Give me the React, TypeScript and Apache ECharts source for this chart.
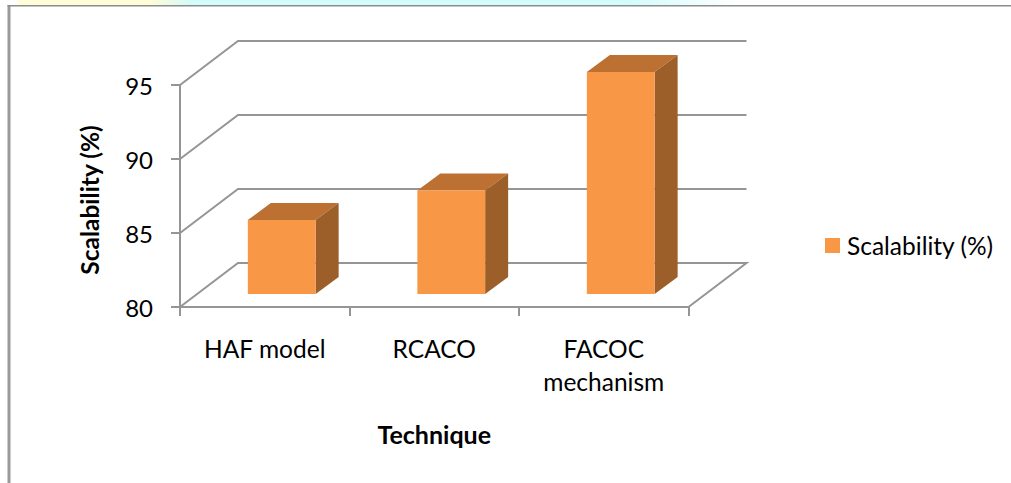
import React, { useEffect, useRef } from "react";
import * as echarts from "echarts";

const categories = ["HAF model", "RCACO", "FACOC\nmechanism"];
const seriesName = "Scalability (%)";
const scalability = [85, 87, 95];
const yTicks = [80, 85, 90, 95];

const LINE = "#959595";
const FONT = "Lato, 'Open Sans', sans-serif";
const DX = 58;
const DY = 44;

export default function App() {
  const ref = useRef<HTMLDivElement>(null);
  useEffect(() => {
    const chart = echarts.init(ref.current!, undefined, { renderer: "svg" });
    chart.setOption({
      animation: false,
      backgroundColor: "#ffffff",
      textStyle: { fontFamily: FONT },
      grid: { left: 180, top: 85, width: 508.5, height: 222 },
      legend: {
        show: true,
        data: [{ name: seriesName, icon: "rect" }],
        left: 820,
        top: 228,
        itemWidth: 15,
        itemHeight: 15,
        textStyle: { fontFamily: FONT, fontSize: 24.5, color: "#000", padding: [0, 0, 0, 2] },
      },
      xAxis: {
        type: "category",
        data: categories,
        name: "Technique",
        nameLocation: "middle",
        nameGap: 114,
        nameTextStyle: { fontFamily: FONT, fontSize: 25, fontWeight: "bold", color: "#000" },
        axisLine: { lineStyle: { color: LINE, width: 2 } },
        axisTick: { show: true, length: 9, alignWithLabel: false, lineStyle: { color: LINE, width: 2 } },
        axisLabel: { fontFamily: FONT, fontSize: 24.5, color: "#000", margin: 25, lineHeight: 33, interval: 0 },
        splitLine: { show: false },
      },
      yAxis: {
        type: "value",
        min: 80,
        max: 95,
        interval: 5,
        name: seriesName,
        nameLocation: "middle",
        nameGap: 78,
        nameRotate: 90,
        nameTextStyle: { fontFamily: FONT, fontSize: 24.5, fontWeight: "bold", color: "#000", padding: [0, 8, 0, 0] },
        axisLine: { show: true, lineStyle: { color: LINE, width: 2 } },
        axisTick: { show: true, length: 9, lineStyle: { color: LINE, width: 2 } },
        axisLabel: { fontFamily: FONT, fontSize: 24, color: "#000", margin: 27 },
        splitLine: { show: false },
      },
      series: [
        {
          type: "custom",
          name: "walls",
          z: 1,
          silent: true,
          encode: { x: 0, y: 1 },
          data: yTicks.map((v) => [0, v]),
          renderItem: (_p: any, api: any) => {
            const v = api.value(1);
            const [cx, y] = api.coord([0, v]);
            const band = api.size([1, 0])[0];
            const x0 = cx - band / 2;
            const x1 = x0 + band * categories.length;
            const pts = [[x0, y], [x0 + DX, y - DY], [x1 + DX, y - DY]];
            if (v === yTicks[0]) pts.push([x1, y]);
            return {
              type: "polyline",
              shape: { points: pts },
              style: { fill: "none", stroke: LINE, lineWidth: 2 },
            };
          },
        },
        {
          type: "custom",
          name: seriesName,
          z: 3,
          itemStyle: { color: "#f89745" },
          encode: { x: 0, y: 1 },
          data: scalability.map((v, i) => [i, v]),
          renderItem: (_p: any, api: any) => {
            const [cx, top] = api.coord([api.value(0), api.value(1)]);
            const [, base] = api.coord([api.value(0), yTicks[0]]);
            const band = api.size([1, 0])[0];
            const w = band * 0.4;
            const l = cx + 17 - w / 2;
            const r = l + w;
            const t = top - 13;
            const b = base - 13;
            const ddx = 23;
            const ddy = 17;
            return {
              type: "group",
              children: [
                {
                  type: "polygon",
                  shape: { points: [[l, t], [l + ddx, t - ddy], [r + ddx, t - ddy], [r, t]] },
                  style: { fill: "#bc7133" },
                },
                {
                  type: "polygon",
                  shape: { points: [[r, t], [r + ddx, t - ddy], [r + ddx, b - ddy], [r, b]] },
                  style: { fill: "#9c5f2a" },
                },
                {
                  type: "rect",
                  shape: { x: l, y: t, width: w, height: b - t },
                  style: { fill: "#f89745" },
                },
              ],
            };
          },
        },
      ],
      graphic: [
        {
          type: "rect",
          silent: true,
          shape: { x: 0, y: 0, width: 1011, height: 5 },
          style: {
            fill: new echarts.graphic.LinearGradient(0, 0, 1, 0, [
              { offset: 0, color: "#ffffff" },
              { offset: 0.016, color: "#ffffff" },
              { offset: 0.02, color: "#fffcd8" },
              { offset: 0.15, color: "#fffcd8" },
              { offset: 0.19, color: "#d2fbfb" },
              { offset: 0.62, color: "#d2fbfb" },
              { offset: 0.73, color: "#ffffff" },
              { offset: 1, color: "#ffffff" },
            ]),
          },
        },
        {
          type: "rect",
          silent: true,
          shape: { x: 7.5, y: 5, width: 3, height: 478 },
          style: { fill: "#9a9a9a" },
        },
        {
          type: "rect",
          silent: true,
          shape: { x: 7.5, y: 5, width: 1003.5, height: 1.6 },
          style: { fill: "#8c8c8c" },
        },
      ],
    });
    return () => chart.dispose();
  }, []);
  return (
    <div
      ref={ref}
      style={{ position: "fixed", left: 0, top: 0, width: 1011, height: 483 }}
    />
  );
}
